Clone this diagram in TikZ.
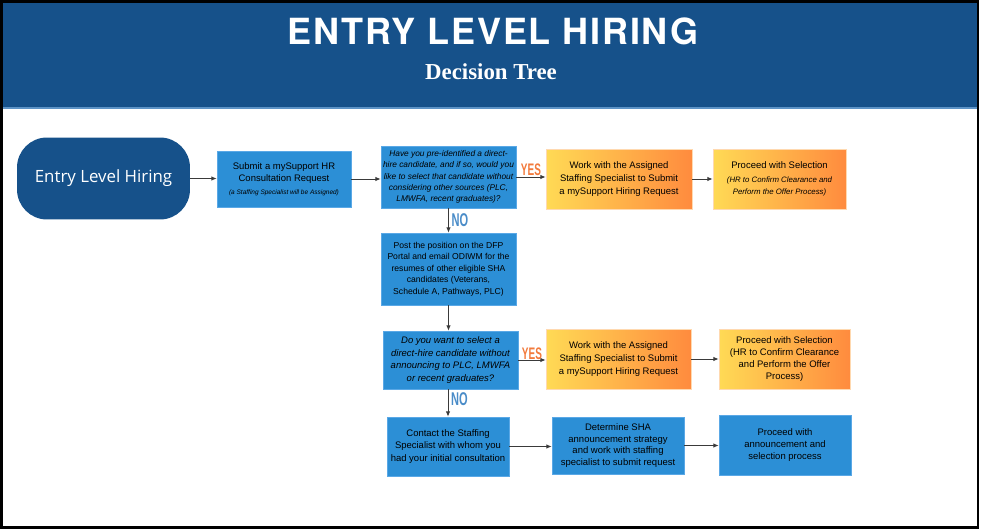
\documentclass[tikz,border=0pt]{standalone}
\usepackage{fontspec}
\setmainfont{Liberation Sans}
\newfontfamily\titlefont[LetterSpace=5]{TeX Gyre Heros}
\newfontfamily\seriffont{Liberation Serif}
\newfontfamily\startfont{Open Sans}
\newfontfamily\condfont[FakeStretch=0.6]{Liberation Sans}
\usetikzlibrary{arrows.meta,shapes}
\definecolor{hdrblue}{HTML}{16518A}
\definecolor{hdrline}{HTML}{5D93C6}
\definecolor{boxblue}{HTML}{2C8FD6}
\definecolor{boxedge}{HTML}{5AA8E6}
\definecolor{goldl}{HTML}{FFDA55}
\definecolor{goldr}{HTML}{FF8B3E}
\definecolor{goldedge}{HTML}{FFD9B0}
\definecolor{linkgray}{HTML}{3A3A3A}
\definecolor{yesorange}{HTML}{F27A3C}
\definecolor{noblue}{HTML}{4A8CC8}
\newcommand\bxfont{\fontsize{5.4}{7}\selectfont}
\newcommand\smallit{\fontsize{4.45}{6.2}\selectfont\itshape}

\begin{document}
\begin{tikzpicture}[x=0.02cm,y=-0.02cm,
	bluebox/.style={draw=boxedge,fill=boxblue,align=center,inner sep=1pt,font=\bxfont},
	goldbox/.style={draw=goldedge,left color=goldl,right color=goldr,align=center,inner sep=1pt,font=\bxfont},
	link/.style={draw=linkgray,line width=0.55pt,-{Latex[length=3pt,width=2.6pt]}},
	yeslbl/.style={text=yesorange,font=\condfont\bfseries\fontsize{9.5}{9.5}\selectfont,inner sep=0.5pt},
	nolbl/.style={text=noblue,font=\condfont\bfseries\fontsize{10.5}{10.5}\selectfont,inner sep=1.5pt}]
	\useasboundingbox (0,0) rectangle (981,530);
	% header band and frame
	\fill[hdrblue] (2,2) rectangle (977,108);
	\draw[hdrline,line width=1pt] (2,108) -- (977,108);
	\draw[line width=1.2pt] (1.5,1.5) rectangle (978,527.5);
	\node[text=white,font=\titlefont\bfseries\fontsize{20.5}{20.5}\selectfont] (title) at (493,31) {ENTRY LEVEL HIRING};
	\node[text=white,font=\seriffont\bfseries\fontsize{13}{13}\selectfont] (subtitle) at (491,72) {Decision Tree};
	% top row
	\node[fill=hdrblue,rounded corners=0.6cm,minimum width=3.46cm,minimum height=1.64cm,text=white,font=\startfont\fontsize{9.6}{9.6}\selectfont] (start) at (103.5,178.5) {Entry Level Hiring};
	\node[bluebox,minimum width=2.68cm,minimum height=1.12cm] (consult) at (284,179) {Submit a mySupport HR\\Consultation Request\\{\fontsize{3.7}{5}\selectfont\itshape (a Staffing Specialist will be Assigned)}};
	\node[bluebox,minimum width=2.7cm,minimum height=1.24cm,font=\fontsize{4.75}{6.4}\selectfont\itshape] (q1) at (448.5,177) {Have you pre-identified a direct-\\hire candidate, and if so, would you\\like to select that candidate without\\considering other sources (PLC,\\LMWFA, recent graduates)?};
	\node[goldbox,minimum width=2.92cm,minimum height=1.2cm,font=\fontsize{5.4}{7.6}\selectfont] (work1) at (619,179) {Work with the Assigned\\Staffing Specialist to Submit\\a mySupport Hiring Request};
	\node[goldbox,minimum width=2.66cm,minimum height=1.2cm] (proceed1) at (779.5,179) {Proceed with Selection\\[1pt]{\smallit (HR to Confirm Clearance and}\\{\smallit Perform the Offer Process)}};
	% middle
	\node[bluebox,minimum width=2.7cm,minimum height=1.44cm,font=\fontsize{4.9}{6.6}\selectfont] (post) at (448.5,269) {Post the position on the DFP\\Portal and email ODIWM for the\\resumes of other eligible SHA\\candidates (Veterans,\\Schedule A, Pathways, PLC)};
	\node[bluebox,minimum width=2.7cm,minimum height=1.16cm,font=\fontsize{5.4}{7.3}\selectfont\itshape] (q2) at (450.5,360) {Do you want to select a\\direct-hire candidate without\\announcing to PLC, LMWFA\\or recent graduates?};
	\node[goldbox,minimum width=2.9cm,minimum height=1.2cm,font=\fontsize{5.4}{7.6}\selectfont] (work2) at (618.5,359) {Work with the Assigned\\Staffing Specialist to Submit\\a mySupport Hiring Request};
	\node[goldbox,minimum width=2.62cm,minimum height=1.2cm,font=\fontsize{5.4}{6.7}\selectfont] (proceed2) at (784.5,359) {Proceed with Selection\\(HR to Confirm Clearance\\and Perform the Offer\\Process)};
	% bottom row
	\node[bluebox,minimum width=2.44cm,minimum height=1.18cm,font=\fontsize{5.4}{7.2}\selectfont] (contact) at (448,446.5) {Contact the Staffing\\Specialist with whom you\\had your initial consultation};
	\node[bluebox,minimum width=2.64cm,minimum height=1.14cm,font=\fontsize{5.4}{6.5}\selectfont] (determine) at (618,445.5) {Determine SHA\\announcement strategy\\and work with staffing\\specialist to submit request};
	\node[bluebox,minimum width=2.64cm,minimum height=1.2cm,font=\fontsize{5.4}{6.8}\selectfont] (proceedann) at (785,445) {Proceed with\\announcement and\\selection process};
	% connectors
	\draw[link] (start.east) -- (start.east -| consult.west);
	\draw[link] (consult.east) -- (consult.east -| q1.west);
	\draw[link] (q1.east) -- (q1.east -| work1.west) node[yeslbl,above,midway] (yes1) {YES};
	\draw[link] (work1.east) -- (work1.east -| proceed1.west);
	\draw[link] (q1.south) -- (q1.south |- post.north) node[nolbl,right,midway] (no1) {NO};
	\draw[link] (post.south) -- (post.south |- q2.north);
	\draw[link] (q2.east) -- (q2.east -| work2.west) node[yeslbl,above,midway,inner sep=0pt] (yes2) {YES};
	\draw[link] (work2.east) -- (work2.east -| proceed2.west);
	\draw[link] (contact.north |- q2.south) -- (contact.north) node[nolbl,right,pos=0.35] (no2) {NO};
	\draw[link] (contact.east) -- (contact.east -| determine.west);
	\draw[link] (determine.east) -- (determine.east -| proceedann.west);
\end{tikzpicture}
\end{document}
